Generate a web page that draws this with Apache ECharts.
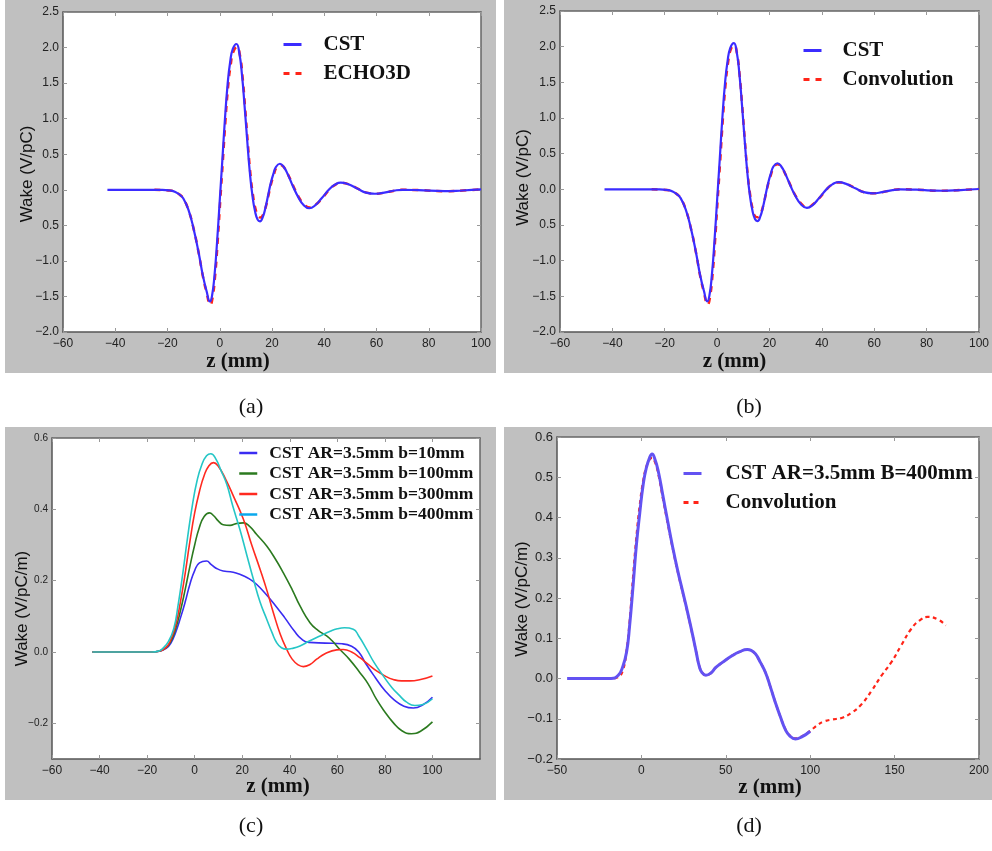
<!DOCTYPE html>
<html>
<head>
<meta charset="utf-8">
<script src="https://cdn.jsdelivr.net/npm/echarts@6/dist/echarts.min.js"></script>
<style>
html,body{margin:0;padding:0;background:#fff;}
#chart{width:992px;height:851px;}
</style>
</head>
<body>
<div id="chart"></div>
<script>
// ---------------- data ----------------
// Panel (a)/(b): CST wake (V/pC) vs z (mm)
const zCst = [-43,-30,-22,-19,-17,-15.3,-14,-12,-10,-8,-6.5,-5,-3.8,-3,-2,-1,0,1,2,3,4,5,6.4,7.5,8.5,9.5,10.5,11.5,12.5,13.5,14.5,15.4,16.5,17.5,18.5,19.5,20.5,21.5,23,24.5,26,28,30,32,34.3,36.5,39,42,44,46.3,49,53,56,59.4,63,67,70,76,86,93,100];
const wCst = [0,0,0,-0.01,-0.03,-0.07,-0.12,-0.28,-0.55,-0.9,-1.2,-1.43,-1.57,-1.5,-1.2,-0.72,-0.15,0.42,1.0,1.48,1.80,1.98,2.05,1.92,1.62,1.18,0.7,0.25,-0.08,-0.3,-0.42,-0.445,-0.38,-0.25,-0.08,0.09,0.22,0.32,0.366,0.32,0.22,0.05,-0.1,-0.21,-0.26,-0.22,-0.12,0.01,0.07,0.10,0.08,0.01,-0.04,-0.056,-0.04,-0.01,0.0,-0.005,-0.02,-0.01,0.005];
// Panel (a): ECHO3D
const zEcho = [-25,-19,-17,-15.3,-14,-12,-10,-8,-6.5,-5,-3.6,-2.8,-1.8,-0.8,0.2,1.2,2.2,3.2,4.2,5.2,6.6,7.7,8.7,9.7,10.7,11.7,12.7,13.7,14.7,15.6,16.7,17.7,18.7,19.7,20.7,21.7,23.2,24.7,26.2,28.2,30.2,32.2,34.5,36.7,39.2,42.2,44.2,46.5,49.2,53.2,56.2,59.6,63.2,67.2,70.2,76.2,86.2,93.2,100];
const wEcho = [0,-0.01,-0.03,-0.07,-0.12,-0.28,-0.55,-0.9,-1.21,-1.45,-1.62,-1.53,-1.22,-0.73,-0.15,0.41,0.98,1.45,1.76,1.94,2.01,1.9,1.6,1.16,0.68,0.24,-0.07,-0.27,-0.37,-0.39,-0.34,-0.23,-0.07,0.09,0.21,0.31,0.35,0.31,0.21,0.05,-0.1,-0.2,-0.25,-0.21,-0.12,0.01,0.07,0.095,0.08,0.01,-0.04,-0.055,-0.04,-0.01,0.0,-0.005,-0.02,-0.01,0.005];
// Panel (b): Convolution
const zConvB = [-25,-19,-17,-15.3,-14,-12,-10,-8,-6.5,-5,-3.6,-2.8,-1.8,-0.8,0.2,1.2,2.2,3.2,4.2,5.2,6.5,7.6,8.6,9.6,10.6,11.6,12.6,13.6,14.6,15.5,16.6,17.6,18.6,19.6,20.6,21.6,23.1,24.6,26.1,28.1,30.1,32.1,34.4,36.6,39.1,42.1,44.1,46.4,49.1,53.1,56.1,59.5,63.1,67.1,70.1,76.1,86.1,93.1,100];
const wConvB = [0,-0.01,-0.03,-0.07,-0.12,-0.28,-0.55,-0.9,-1.21,-1.45,-1.62,-1.53,-1.22,-0.73,-0.15,0.41,0.99,1.46,1.78,1.96,2.02,1.9,1.6,1.16,0.68,0.24,-0.07,-0.28,-0.38,-0.39,-0.34,-0.23,-0.07,0.09,0.21,0.31,0.35,0.31,0.21,0.05,-0.1,-0.2,-0.25,-0.21,-0.12,0.01,0.07,0.097,0.08,0.01,-0.04,-0.055,-0.04,-0.01,0.0,-0.005,-0.02,-0.01,0.005];

// Panel (c): wake (V/pC/m) for several b
const zB10 = [-43,-30,-18,-15,-12,-10,-8,-6,-4,-2,0,2,5,7,9,12,15,18,20,23,26,30,34,38,42,45,48,55,62,66,69,72,76,80,84,88,92,96,100];
const wB10 = [0,0,0,0.002,0.01,0.025,0.055,0.095,0.14,0.19,0.228,0.25,0.255,0.245,0.235,0.227,0.225,0.22,0.215,0.205,0.19,0.162,0.13,0.095,0.058,0.036,0.027,0.025,0.023,0.016,0.0,-0.033,-0.072,-0.108,-0.135,-0.152,-0.157,-0.148,-0.127];
const zB100 = [-43,-30,-18,-15,-12,-10,-8,-6,-4,-2,0,2,4,6.2,8,10,12,14.9,17.5,20.5,23,26,30.3,34,37.3,41,44.3,48.5,52,55.5,58,61.1,65,69.5,73,76.5,80,83.5,87,91.2,95,100];
const wB100 = [0,0,0,0.002,0.012,0.03,0.065,0.115,0.175,0.24,0.3,0.35,0.38,0.39,0.382,0.367,0.357,0.355,0.36,0.362,0.353,0.33,0.297,0.26,0.222,0.175,0.129,0.082,0.06,0.045,0.03,0.007,-0.02,-0.058,-0.09,-0.133,-0.168,-0.198,-0.22,-0.229,-0.222,-0.196];
const zB300 = [-43,-30,-18,-15,-12,-10,-8,-6,-4,-2,0,2,4,6,7.9,10,13,16.3,20.5,24,27.5,30.5,33.1,36,38.7,41,43.5,45.7,48.5,51.3,55,59.7,62.5,66,69.5,73,76.5,80,83.5,87,90.5,95,100];
const wB300 = [0,0,0,0.002,0.013,0.035,0.075,0.14,0.22,0.31,0.39,0.45,0.495,0.522,0.531,0.52,0.485,0.437,0.372,0.3,0.232,0.17,0.11,0.05,0.008,-0.02,-0.036,-0.041,-0.035,-0.02,-0.004,0.006,0.007,0.0,-0.016,-0.035,-0.053,-0.067,-0.077,-0.081,-0.081,-0.077,-0.067];
const zB400 = [-43,-30,-18,-15,-13.7,-11,-8.8,-7,-5,-3,-1,1,3,5,6.8,9,11,13.5,16,19,22,24.7,27.5,30.3,32.5,34.5,36.5,38.7,41,44.3,48,52.7,57,60,63,66.7,69,72.3,75.5,79.3,83,86.3,89,92.6,96,100];
const wB400 = [0,0,0,0.003,0.008,0.03,0.065,0.13,0.22,0.32,0.41,0.48,0.525,0.55,0.556,0.54,0.51,0.47,0.41,0.344,0.27,0.204,0.14,0.092,0.055,0.026,0.012,0.008,0.01,0.017,0.03,0.045,0.058,0.065,0.068,0.064,0.045,0.008,-0.03,-0.067,-0.1,-0.123,-0.14,-0.15,-0.147,-0.131];

// Panel (d): CST b=400mm and convolution
const zCstD = [-44,-30,-18,-13.7,-11,-8.8,-7,-4.9,-3,-1,1,2.9,5,6.3,8,10,12.7,15.6,18.6,21.5,24.5,27.5,30.4,32.5,34.3,36,38.2,41,44.1,48,53.9,58,62.7,65,67.6,70.5,73.5,76.5,79.4,82.5,85.3,88,91.2,95,100];
const wCstD = [0,0,0,0.008,0.03,0.065,0.13,0.232,0.33,0.41,0.48,0.523,0.55,0.558,0.545,0.515,0.455,0.39,0.325,0.268,0.215,0.162,0.107,0.065,0.03,0.014,0.008,0.013,0.0275,0.04,0.057,0.066,0.072,0.07,0.061,0.04,0.015,-0.022,-0.06,-0.097,-0.127,-0.143,-0.15,-0.145,-0.131];
const zConvD = [-25,-18,-14,-11,-8.8,-7,-5,-3,-1,1,3,5,6.3,8,10,12.7,15.6,18.6,21.5,24.5,27.5,30.4,32.5,34.3,36,38.2,41,44.1,48,53.9,58,62.7,65,67.6,70.5,73.5,76.5,79.4,82.5,85.3,88,91.2,95,100,104.9,108,112.7,118.6,124.5,130.4,136.3,142.2,148,153.9,159.8,164.7,169.6,175.5,180.4];
const wConvD = [0,0,0.003,0.02,0.07,0.14,0.25,0.35,0.43,0.49,0.527,0.545,0.548,0.538,0.508,0.448,0.385,0.322,0.266,0.213,0.16,0.106,0.065,0.031,0.015,0.008,0.013,0.0275,0.04,0.057,0.066,0.071,0.069,0.06,0.04,0.015,-0.022,-0.06,-0.097,-0.126,-0.142,-0.149,-0.144,-0.13,-0.114,-0.107,-0.102,-0.098,-0.085,-0.064,-0.031,0.007,0.04,0.082,0.123,0.144,0.153,0.147,0.132];

// tick values
const xTicksAB = [-60,-40,-20,0,20,40,60,80,100];
const yTicksAB = [-2.0,-1.5,-1.0,-0.5,0.0,0.5,1.0,1.5,2.0,2.5];
const xTicksC = [-60,-40,-20,0,20,40,60,80,100];
const yTicksC = [-0.2,0.0,0.2,0.4,0.6];
const xTicksD = [-50,0,50,100,150,200];
const yTicksD = [-0.2,-0.1,0.0,0.1,0.2,0.3,0.4,0.5,0.6];

// ---------------- helpers ----------------
const zip = (z, w) => z.map((v, i) => [v, w[i]]);
const minus = s => s.replace('-', '\u2212');
const SANS = '"Liberation Sans", Arial, Helvetica, sans-serif';
const SERIF = '"Liberation Serif", "Times New Roman", serif';

const grids = [
  {left: 63, top: 12, width: 418, height: 320},
  {left: 560, top: 11, width: 419, height: 321},
  {left: 52, top: 438, width: 428, height: 321},
  {left: 557, top: 437, width: 425, height: 322}
].map(g => Object.assign({show: true, backgroundColor: '#fff', borderWidth: 0, containLabel: false}, g));

const panels = [
  {xr: [-60, 100], yr: [-2, 2.5], xt: xTicksAB, yt: yTicksAB, yfmt: v => Math.abs(v + 0.5) < 1e-9 ? '0.5' : minus(v.toFixed(1)), yName: 'Wake (V/pC)', ySize: 12, yGap: 27, yPad: [0, 4, 0, 0], xPad: [0, 68, 0, 0], xGap: 19},
  {xr: [-60, 100], yr: [-2, 2.5], xt: xTicksAB, yt: yTicksAB, yfmt: v => Math.abs(v + 0.5) < 1e-9 ? '0.5' : minus(v.toFixed(1)), yName: 'Wake (V/pC)', ySize: 12, yGap: 28, yPad: [0, 12, 0, 0], xPad: [0, 70, 0, 0], xGap: 19},
  {xr: [-60, 120], yr: [-0.3, 0.6], xt: xTicksC, yt: yTicksC, yfmt: v => minus((Math.abs(v) < 1e-9 ? 0 : v).toFixed(1)), yName: 'Wake (V/pC/m)', ySize: 10, yGap: 21, yPad: [0, 20, 0, 0], xPad: [0, 0, 0, 24], xGap: 17},
  {xr: [-50, 200], yr: [-0.2, 0.6], xt: xTicksD, yt: yTicksD, yfmt: v => minus((Math.abs(v) < 1e-9 ? 0 : v).toFixed(1)), yName: 'Wake (V/pC/m)', ySize: 13, yGap: 26, yPad: [0, 2, 0, 0], xPad: [0, 0, 0, 4], xGap: 18}
];

const xAxes = [], yAxes = [];
const lineMain = {show: true, onZero: false, lineStyle: {color: '#555', width: 1.5}};
const lineMirror = {show: true, onZero: false, lineStyle: {color: '#666', width: 1.5}};
const tickStyle = {inside: true, length: 4, lineStyle: {color: '#999', width: 1}};
panels.forEach((p, i) => {
  xAxes.push({
    type: 'value', gridIndex: i, position: 'bottom', min: p.xr[0], max: p.xr[1],
    axisLine: lineMain,
    axisTick: Object.assign({customValues: p.xt}, tickStyle),
    axisLabel: {customValues: p.xt, formatter: v => minus(String(Math.round(v))), color: '#222', fontFamily: SANS, fontSize: 12, margin: 6},
    splitLine: {show: false},
    name: 'z (mm)', nameLocation: 'middle', nameGap: p.xGap, nameMoveOverlap: false,
    nameTextStyle: {fontFamily: SERIF, fontWeight: 'bold', fontSize: 21, color: '#111', padding: p.xPad}
  });
  xAxes.push({
    type: 'value', gridIndex: i, position: 'top', min: p.xr[0], max: p.xr[1],
    axisLine: lineMirror,
    axisTick: Object.assign({customValues: p.xt}, tickStyle),
    axisLabel: {show: false}, splitLine: {show: false}
  });
  yAxes.push({
    type: 'value', gridIndex: i, position: 'left', min: p.yr[0], max: p.yr[1],
    axisLine: lineMain,
    axisTick: Object.assign({customValues: p.yt}, tickStyle),
    axisLabel: {customValues: p.yt, formatter: p.yfmt, color: '#222', fontFamily: SANS, fontSize: p.ySize, margin: 4},
    splitLine: {show: false},
    name: p.yName, nameLocation: 'middle', nameGap: p.yGap, nameMoveOverlap: false,
    nameTextStyle: {fontFamily: SANS, fontSize: 17, color: '#111', padding: p.yPad}
  });
  yAxes.push({
    type: 'value', gridIndex: i, position: 'right', min: p.yr[0], max: p.yr[1],
    axisLine: lineMirror,
    axisTick: Object.assign({customValues: p.yt}, tickStyle),
    axisLabel: {show: false}, splitLine: {show: false}
  });
});

const BLUE = '#3b2cff';
const RED = '#ff2418';
const mk = (name, panel, data, color, width, type) => ({
  type: 'line', name, xAxisIndex: panel * 2, yAxisIndex: panel * 2,
  data, smooth: 0.5, symbol: 'none', showSymbol: false, clip: true,
  lineStyle: {color, width, type: type || 'solid'}, itemStyle: {color},
  emphasis: {disabled: true}
});

const series = [
  mk('ECHO3D', 0, zip(zEcho, wEcho), RED, 2.5, [6, 6]),
  mk('CST', 0, zip(zCst, wCst), BLUE, 2.2),
  mk('Convolution', 1, zip(zConvB, wConvB), RED, 2.5, [6, 6]),
  mk('CST', 1, zip(zCst, wCst), BLUE, 2.2),
  mk('CST AR=3.5mm b=10mm', 2, zip(zB10, wB10), '#3a2cf2', 1.6),
  mk('CST AR=3.5mm b=100mm', 2, zip(zB100, wB100), '#2b7a1f', 1.6),
  mk('CST AR=3.5mm b=300mm', 2, zip(zB300, wB300), '#ff2a20', 1.6),
  mk('CST AR=3.5mm b=400mm', 2, zip(zB400, wB400), '#25c6c6', 1.6),
  mk('Convolution', 3, zip(zConvD, wConvD), RED, 2.2, [4, 3.5]),
  mk('CST AR=3.5mm B=400mm', 3, zip(zCstD, wCstD), '#6352f2', 3)
];

const hiddenSymbol = {color: 'rgba(0,0,0,0)', borderWidth: 0, opacity: 0};
const lg = (fs, gap, left, top, data, textPad) => ({
  orient: 'vertical', selectedMode: false, itemWidth: 18, itemHeight: 10, itemGap: gap,
  padding: 0, left, top, data, itemStyle: hiddenSymbol,
  textStyle: {fontFamily: SERIF, fontWeight: 'bold', fontSize: fs, color: '#111', lineHeight: fs, padding: [0, 0, 0, textPad]}
});
const legends = [
  lg(21, 8, 282, 34, [{name: 'CST', lineStyle: {width: 3}}, {name: 'ECHO3D', lineStyle: {type: [6, 6], width: 3}}], 17),
  lg(21, 8, 802, 40, [{name: 'CST', lineStyle: {width: 3}}, {name: 'Convolution', lineStyle: {type: [6, 6], width: 3}}], 16),
  lg(17.5, 2.5, 238, 444, [
      {name: 'CST AR=3.5mm b=10mm', lineStyle: {width: 2.5}},
      {name: 'CST AR=3.5mm b=100mm', lineStyle: {width: 2.5}},
      {name: 'CST AR=3.5mm b=300mm', lineStyle: {width: 2.5}},
      {name: 'CST AR=3.5mm b=400mm', lineStyle: {width: 2.5, color: '#0aa8ec'}}
    ], 7),
  lg(21, 8, 682, 463, [{name: 'CST AR=3.5mm B=400mm', lineStyle: {width: 3}}, {name: 'Convolution', lineStyle: {type: [5, 5], width: 3}}], 19)
];

const GRAY = '#c0c0c0';
const graphic = [
  {type: 'rect', z: -10, shape: {x: 5, y: 0, width: 491, height: 373}, style: {fill: GRAY}},
  {type: 'rect', z: -10, shape: {x: 504, y: 0, width: 488, height: 373}, style: {fill: GRAY}},
  {type: 'rect', z: -10, shape: {x: 5, y: 427, width: 491, height: 373}, style: {fill: GRAY}},
  {type: 'rect', z: -10, shape: {x: 504, y: 427, width: 488, height: 373}, style: {fill: GRAY}},
  {type: 'text', x: 251, y: 407, style: {text: '(a)', font: '22px "Liberation Serif", serif', fill: '#111', align: 'center', verticalAlign: 'middle'}},
  {type: 'text', x: 749, y: 407, style: {text: '(b)', font: '22px "Liberation Serif", serif', fill: '#111', align: 'center', verticalAlign: 'middle'}},
  {type: 'text', x: 251, y: 826, style: {text: '(c)', font: '22px "Liberation Serif", serif', fill: '#111', align: 'center', verticalAlign: 'middle'}},
  {type: 'text', x: 749, y: 826, style: {text: '(d)', font: '22px "Liberation Serif", serif', fill: '#111', align: 'center', verticalAlign: 'middle'}}
];

const chart = echarts.init(document.getElementById('chart'), null, {renderer: 'canvas'});
chart.setOption({
  animation: false,
  backgroundColor: '#fff',
  graphic,
  grid: grids,
  xAxis: xAxes,
  yAxis: yAxes,
  legend: legends,
  series
});
</script>
</body>
</html>
